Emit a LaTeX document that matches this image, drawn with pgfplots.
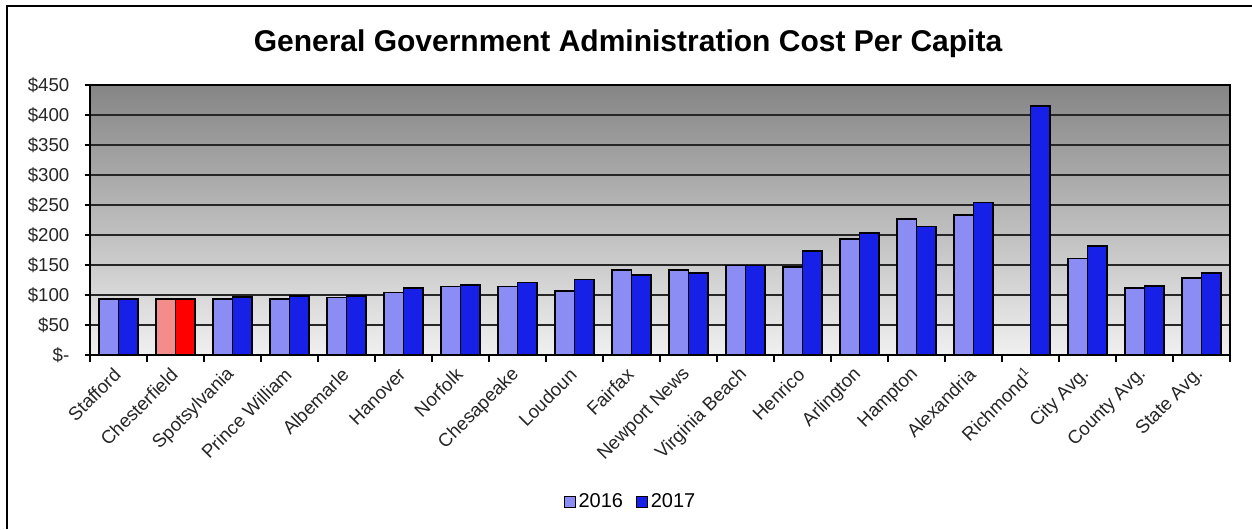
\documentclass[border=0pt]{standalone}
\usepackage{pgfplots}
\pgfplotsset{compat=1.18}
\usepackage{fontspec}
\setmainfont{Liberation Sans}
\definecolor{blue16}{RGB}{140,140,245}
\definecolor{blue17}{RGB}{22,32,230}
\definecolor{red16}{RGB}{245,140,140}
\definecolor{red17}{RGB}{255,0,0}
\definecolor{bgtop}{RGB}{133,133,133}
\definecolor{bgbot}{RGB}{240,240,240}
\begin{document}
\begin{tikzpicture}
\path[use as bounding box] (0,0) rectangle (939pt,396.75pt);
\fill[white] (0,0) rectangle (939pt,396.75pt);
\draw[line width=1.5pt] (5.25pt,0) -- (5.25pt,392.25pt) -- (939pt,392.25pt);
\node[font=\bfseries\fontsize{22.5}{26}\selectfont] at (471pt,363.75pt) {General Government Administration Cost Per Capita};
\begin{axis}[
  at={(67.5pt,130.5pt)}, anchor=south west,
  scale only axis, width=855pt, height=202.5pt,
  xmin=-0.5, xmax=19.5, ymin=0, ymax=450,
  ybar=0pt, bar width=0.342,
  axis background/.style={shade, top color=bgtop, bottom color=bgbot},
  axis line style={black, line width=1pt},
  tick pos=left,
  ytick={0,50,...,450},
  yticklabels={\$-,\$50,\$100,\$150,\$200,\$250,\$300,\$350,\$400,\$450},
  ymajorgrids, major grid style={black!85, line width=1pt},
  xtick={0,...,19},
  xticklabels={Stafford,Chesterfield,Spotsylvania,Prince William,Albemarle,Hanover,Norfolk,Chesapeake,Loudoun,Fairfax,Newport News,Virginia Beach,Henrico,Arlington,Hampton,Alexandria,Richmond\textsuperscript{1},City Avg.,County Avg.,State Avg.},
  minor xtick={-0.5,0.5,...,19.5},
  major x tick style={draw=none},
  minor x tick style={black, line width=0.8pt},
  y tick style={black, line width=0.8pt},
  tick align=outside,
  major tick length=4pt, minor tick length=5pt,
  x tick label style={yshift=-6pt, xshift=1.5pt, rotate=45, anchor=east, font=\fontsize{14}{16}\selectfont, text=black!85},
  y tick label style={xshift=-8pt, font=\fontsize{14}{16}\selectfont, text=black!85},
  legend style={at={(0.4746,-0.544)}, anchor=center, draw=none, fill=none, legend columns=2,
    font=\fontsize{15}{17}\selectfont, /tikz/every even column/.append style={column sep=8pt}},
  legend image code/.code={\draw[#1, draw=black, line width=0.8pt] (0pt,-4pt) rectangle (8pt,4pt);},
]
\addplot[fill=blue16, draw=black, line width=1.1pt, bar shift=-0.171] coordinates {
(0,93) (2,93) (3,93) (4,95.5) (5,104) (6,114) (7,114) (8,107) (9,141.5)
(10,141.5) (11,149) (12,147) (13,193) (14,227) (15,233) (17,160.5) (18,112) (19,128)};
\addplot[fill=blue17, draw=black, line width=1.1pt, bar shift=0.171] coordinates {
(0,93) (2,97) (3,98) (4,98) (5,112) (6,117) (7,120.5) (8,125.5) (9,133)
(10,136.5) (11,149) (12,173) (13,203) (14,214) (15,254) (16,415) (17,181.5) (18,115) (19,136.5)};
\addplot[fill=red16, draw=black, line width=1.1pt, bar shift=-0.171, forget plot] coordinates {(1,93)};
\addplot[fill=red17, draw=black, line width=1.1pt, bar shift=0.171, forget plot] coordinates {(1,93)};
\legend{2016,2017}
\end{axis}
\end{tikzpicture}
\end{document}
